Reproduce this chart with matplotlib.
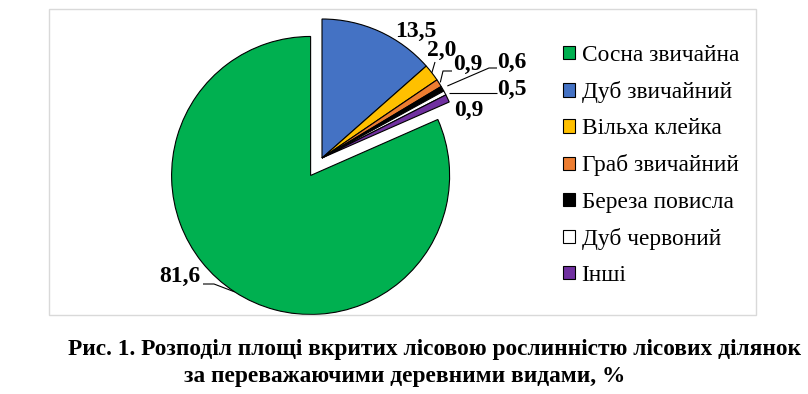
import matplotlib
matplotlib.use("Agg")
import matplotlib.pyplot as plt
from matplotlib.patches import Rectangle
import numpy as np

categories = ["Сосна звичайна", "Дуб звичайний", "Вільха клейка", "Граб звичайний",
              "Береза повисла", "Дуб червоний", "Інші"]
values = [81.6, 13.5, 2.0, 0.9, 0.6, 0.5, 0.9]
value_labels = ["81,6", "13,5", "2,0", "0,9", "0,6", "0,5", "0,9"]
colors = ["#00B050", "#4472C4", "#FFC000", "#ED7D31", "#000000", "#FFFFFF", "#7030A0"]
explode = [0.15, 0, 0, 0, 0, 0, 0]

caption1 = "Рис. 1. Розподіл площі вкритих лісовою рослинністю лісових ділянок"
caption2 = "за переважаючими деревними видами, %"

W, H = 808, 394
DPI = 100
fig = plt.figure(figsize=(W / DPI, H / DPI), dpi=DPI)
ax = fig.add_axes([0, 0, 1, 1])

# pixel geometry: pie centre and radius
cx, cy, R = 322, 158, 139

def p2d(px, py):
    return ((px - cx) / R, (cy - py) / R)

start = 90 - 360 * (1 - values[0] / sum(values))
wedges, _ = ax.pie(values, colors=colors, explode=explode, startangle=start,
                   counterclock=False, radius=1, center=(0, 0),
                   wedgeprops=dict(edgecolor="black", linewidth=0.8))
ax.set_xlim(-cx / R, (W - cx) / R)
ax.set_ylim(-(H - cy) / R, cy / R)
ax.set_aspect("equal")
ax.axis("off")

def anchor(w, r=1.0):
    th = np.deg2rad((w.theta1 + w.theta2) / 2)
    c = w.center
    return (c[0] + r * np.cos(th), c[1] + r * np.sin(th))

lab_font = dict(family=["Liberation Serif"], weight="bold", fontsize=17)

# label text positions (pixel centres) and leader polylines from text side
label_pos = [(180, 276), (416, 31), (442, 50), (468, 64), (512, 62), (512, 89), (469, 110)]
leaders = {
    0: [(203, 284), (214, 284)],
    2: [(435, 62)],
    3: [(452, 71), (443, 71)],
    4: [(497, 68), (489, 68)],
    5: [(497, 93)],
}
anchor_r = {0: 1.0, 2: 1.0, 3: 1.01, 4: 1.04, 5: 1.03}

for i, (lab, pos) in enumerate(zip(value_labels, label_pos)):
    x, y = p2d(*pos)
    ax.text(x, y, lab, ha="center", va="center", **lab_font)
    if i in leaders:
        pts = [p2d(*p) for p in leaders[i]]
        pts.append(anchor(wedges[i], anchor_r[i]))
        if i == 5:
            pts[-1] = (pts[-1][0], pts[0][1])
        xs, ys = zip(*pts)
        ax.plot(xs, ys, color="black", linewidth=0.8, solid_capstyle="butt")

# chart area border
fig.patches.append(Rectangle((49 / W, 1 - 315 / H), (756 - 49) / W, (315 - 9) / H,
                             transform=fig.transFigure, fill=False,
                             edgecolor="#D9D9D9", linewidth=1.0))

leg = ax.legend(wedges, categories, loc="upper left",
                bbox_to_anchor=(563 / W, 1 - 45 / H), bbox_transform=fig.transFigure,
                frameon=False, prop=dict(family=["Liberation Serif"], size=16.8),
                handlelength=0.5, handleheight=0.5, handletextpad=0.3,
                labelspacing=0.65, borderaxespad=0, borderpad=0)
for h in leg.legend_handles:
    h.set_edgecolor("black")
    h.set_linewidth(0.8)

cap_font = dict(family=["Liberation Serif"], weight="bold", fontsize=16.8)
fig.text(434 / W, 1 - 355 / H, caption1, ha="center", va="baseline", **cap_font)
fig.text(405 / W, 1 - 382 / H, caption2, ha="center", va="baseline", **cap_font)

fig.savefig("out.png", dpi=DPI, facecolor="white")
